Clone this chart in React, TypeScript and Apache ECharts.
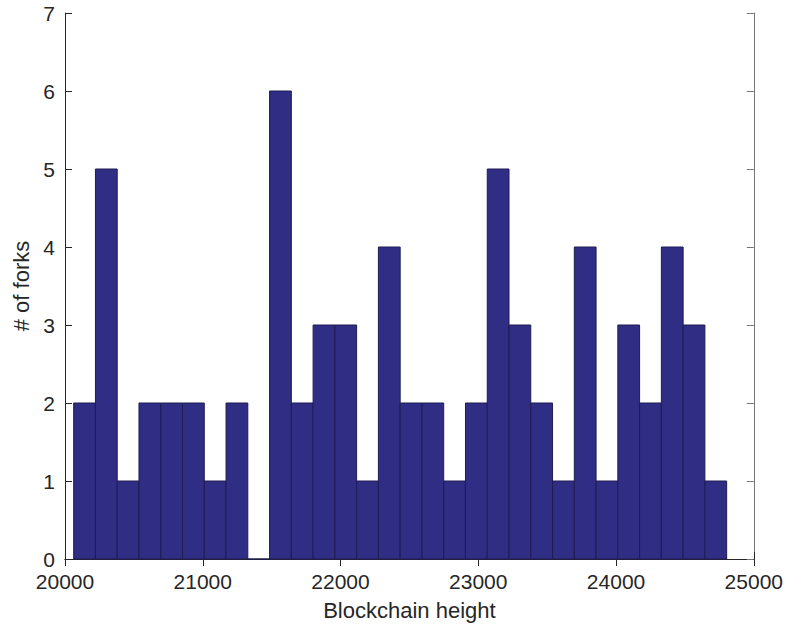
import React, { useEffect, useRef } from "react";
import * as echarts from "echarts";

const binStart = 20063;
const binWidth = 158;
const counts = [2, 5, 1, 2, 2, 2, 1, 2, 0, 6, 2, 3, 3, 1, 4, 2, 2, 1, 2, 5, 3, 2, 1, 4, 1, 3, 2, 4, 3, 1];
const xTicks = [20000, 21000, 22000, 23000, 24000, 25000];
const yTicks = [0, 1, 2, 3, 4, 5, 6, 7];

export default function App() {
  const ref = useRef<HTMLDivElement>(null);
  useEffect(() => {
    const chart = echarts.init(ref.current!, null, { renderer: "svg" });
    const data = counts.map((c, i) => [binStart + i * binWidth, binStart + (i + 1) * binWidth, c]);
    const font = "Liberation Sans, Arial, Helvetica, sans-serif";
    const txt = "#262626";
    const axisLine = { show: true, lineStyle: { color: "#262626", width: 1 } };
    chart.setOption({
      animation: false,
      grid: { left: 65, right: 32, top: 13, bottom: 67 },
      xAxis: [
        {
          type: "value",
          min: xTicks[0],
          max: xTicks[xTicks.length - 1],
          interval: 1000,
          position: "bottom",
          name: "Blockchain height",
          nameLocation: "middle",
          nameGap: 40,
          nameTextStyle: { fontFamily: font, fontSize: 22, color: txt },
          axisLine,
          axisTick: { show: true, inside: true, length: 7, lineStyle: { color: "#262626" } },
          axisLabel: { fontFamily: font, fontSize: 21, color: txt, margin: 12, formatter: (v: number) => String(v) },
          splitLine: { show: false },
        },
        {
          type: "value",
          min: xTicks[0],
          max: xTicks[xTicks.length - 1],
          interval: 1000,
          position: "top",
          axisLine,
          axisTick: { show: true, inside: true, length: 7, lineStyle: { color: "#262626" } },
          axisLabel: { show: false },
          splitLine: { show: false },
        },
      ],
      yAxis: [
        {
          type: "value",
          min: yTicks[0],
          max: yTicks[yTicks.length - 1],
          interval: 1,
          position: "left",
          name: "# of forks",
          nameLocation: "middle",
          nameGap: 29,
          nameRotate: 90,
          nameTextStyle: { fontFamily: font, fontSize: 22, color: txt },
          axisLine,
          axisTick: { show: true, inside: true, length: 7, lineStyle: { color: "#262626" } },
          axisLabel: { fontFamily: font, fontSize: 21, color: txt, margin: 10 },
          splitLine: { show: false },
        },
        {
          type: "value",
          min: yTicks[0],
          max: yTicks[yTicks.length - 1],
          interval: 1,
          position: "right",
          axisLine: { show: true, lineStyle: { color: "#777", width: 1 } },
          axisTick: { show: true, inside: true, length: 7, lineStyle: { color: "#777" } },
          axisLabel: { show: false },
          splitLine: { show: false },
        },
      ],
      series: [
        {
          type: "custom",
          xAxisIndex: 0,
          yAxisIndex: 0,
          data,
          encode: { x: [0, 1], y: 2 },
          renderItem: (params: any, api: any) => {
            const p0 = api.coord([api.value(0), api.value(2)]);
            const p1 = api.coord([api.value(1), 0]);
            return {
              type: "rect",
              shape: { x: p0[0], y: p0[1], width: p1[0] - p0[0], height: p1[1] - p0[1] },
              style: { fill: "#302d85", stroke: "#1e1c52", lineWidth: 1 },
            };
          },
        },
      ],
    });
    return () => chart.dispose();
  }, []);
  return <div ref={ref} style={{ width: 786, height: 626, position: "absolute", left: 0, top: 0, background: "#fff" }} />;
}
